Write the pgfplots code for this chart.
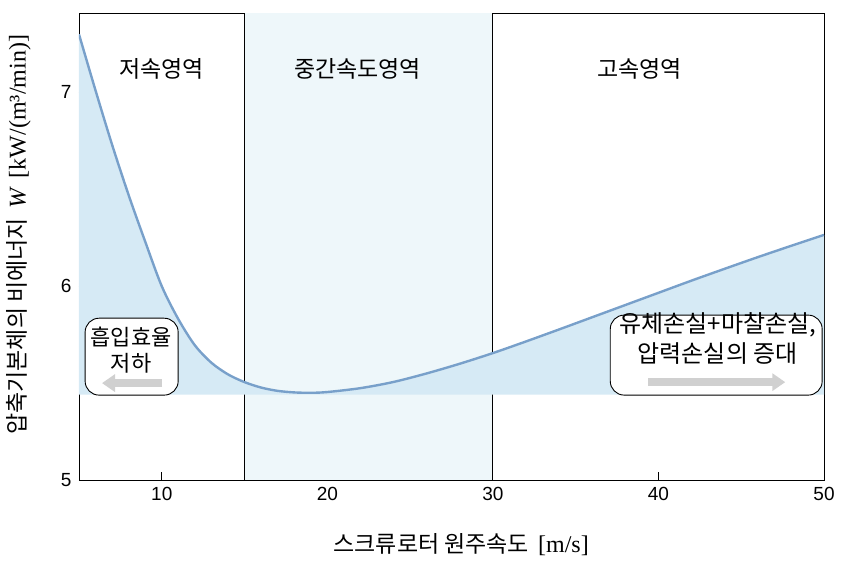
\documentclass[border=0pt]{standalone}
\usepackage{pgfplots}
\pgfplotsset{compat=1.18}
\usetikzlibrary{arrows.meta}
\usepackage{fontspec}
\setmainfont{Liberation Sans}
\newfontfamily\kr{Noto Sans CJK KR}
\newfontfamily\tm{Liberation Serif}
\definecolor{curvec}{RGB}{120,160,202}
\definecolor{fillc}{RGB}{214,234,245}
\definecolor{midc}{RGB}{238,247,250}
\definecolor{arrc}{RGB}{208,208,208}
\pgfplotstableread{
x y
5 7.30
6 7.01
7 6.73
8 6.47
9 6.23
10 6.00
11 5.83
12 5.695
13 5.605
14 5.545
15 5.505
16 5.477
17 5.460
18 5.452
19 5.450
20 5.454
22 5.474
24 5.506
26 5.550
28 5.600
30 5.655
32 5.715
34 5.777
36 5.840
38 5.903
40 5.966
42 6.029
44 6.090
46 6.150
48 6.208
50 6.265
}\curvedata
\begin{document}
\begin{tikzpicture}
\begin{axis}[name=ax,
  scale only axis, width=745bp, height=467bp,
  xmin=5, xmax=50, ymin=5, ymax=7.41,
  xtick={10,20,30,40,50}, ytick={5,6,7},
  tick pos=left, tick align=inside, major tick length=8bp,
  tick style={black, line width=0.8pt},
  axis line style={black, line width=0.8pt},
  ticklabel style={font=\fontsize{19bp}{21bp}\selectfont},
  /pgf/number format/assume math mode=true,
  xticklabel style={yshift=-4bp},
  yticklabel style={xshift=-4bp},
  every axis x label/.style={at={(axis description cs:0.513,-0.139)}, anchor=center},
  every axis y label/.style={at={(axis description cs:-0.081,0.525)}, rotate=90, anchor=center},
  xlabel={{\kr\fontsize{23bp}{25bp}\selectfont 스크류로터 원주속도}\hspace{9bp}{\tm\fontsize{24bp}{26bp}\selectfont [m/s]}},
  ylabel={{\kr\fontsize{23bp}{25bp}\selectfont 압축기본체의 비에너지}\hspace{10bp}{\tm\fontsize{24bp}{26bp}\selectfont\itshape W}\hspace{10bp}{\tm\fontsize{24bp}{26bp}\selectfont [kW/(m³/min)]}},
  clip=true,
]
\addplot[fill=midc, draw=none] coordinates {(15,5) (30,5) (30,7.41) (15,7.41)};
\addplot[black, line width=0.8pt] coordinates {(15,5) (15,7.41)};
\addplot[black, line width=0.8pt] coordinates {(30,5) (30,7.41)};
\addplot[fill=fillc, draw=none] coordinates {(5,5.44) (5,7.30) (6,7.01) (7,6.73) (8,6.47) (9,6.23) (10,6.00) (11,5.83) (12,5.695) (13,5.605) (14,5.545) (15,5.505) (16,5.477) (17,5.460) (18,5.452) (19,5.450) (20,5.454) (22,5.474) (24,5.506) (26,5.550) (28,5.600) (30,5.655) (32,5.715) (34,5.777) (36,5.840) (38,5.903) (40,5.966) (42,6.029) (44,6.090) (46,6.150) (48,6.208) (50,6.265) (50,5.44)};
\addplot[curvec, line width=2.4pt, smooth, tension=0.5] table[x=x,y=y] {\curvedata};
% annotation boxes
\draw[black, line width=0.9pt, fill=white, rounded corners=14bp] (axis cs:5.37,5.438) rectangle (axis cs:10.99,5.835);
\node[font=\kr\fontsize{22bp}{24bp}\selectfont] at (axis cs:8.15,5.737) {흡입효율};
\node[font=\kr\fontsize{22bp}{24bp}\selectfont] at (axis cs:8.15,5.603) {저하};
\draw[arrc, line width=8bp, -{Triangle[length=13bp,width=17bp]}] (axis cs:10.02,5.50) -- (axis cs:6.39,5.50);
\draw[black, line width=0.9pt, fill=white, rounded corners=14bp] (axis cs:37.09,5.438) rectangle (axis cs:49.89,5.851);
\node[font=\kr\fontsize{24bp}{26bp}\selectfont] at (axis cs:43.58,5.80) {유체손실+마찰손실,};
\node[font=\kr\fontsize{24bp}{26bp}\selectfont] at (axis cs:43.58,5.655) {압력손실의 증대};
\draw[arrc, line width=8bp, -{Triangle[length=13bp,width=17bp]}] (axis cs:39.38,5.505) -- (axis cs:47.66,5.505);
% region labels
\node[font=\kr\fontsize{23bp}{25bp}\selectfont] at (axis cs:10,7.124) {저속영역};
\node[font=\kr\fontsize{23bp}{25bp}\selectfont] at (axis cs:21.83,7.124) {중간속도영역};
\node[font=\kr\fontsize{23bp}{25bp}\selectfont] at (axis cs:38.85,7.124) {고속영역};
\end{axis}
\pgfresetboundingbox
\path (ax.south west) ++(-79bp,-82bp) rectangle ++(852bp,562bp);
\end{tikzpicture}
\end{document}
